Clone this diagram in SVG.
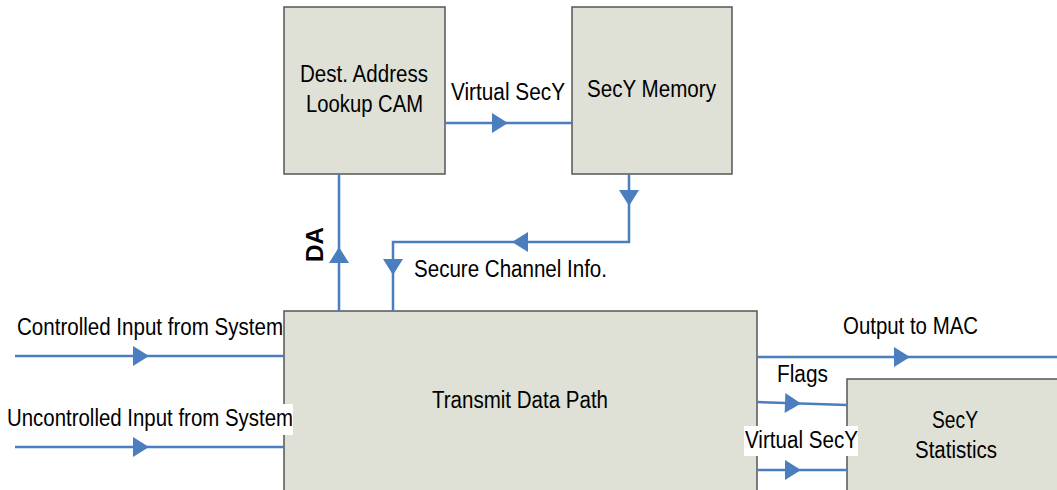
<svg xmlns="http://www.w3.org/2000/svg" xmlns:xlink="http://www.w3.org/1999/xlink" width="1057" height="490" viewBox="0 0 1057 490">
<style>
.box{fill:#dfe0d6;stroke:#555;stroke-width:1.5}
.ln{fill:none;stroke:#4a7ebf;stroke-width:2.5}
.ah{fill:#4a7ebf}
text{font-family:"Liberation Sans",Arial,sans-serif;font-size:23px;fill:#000}
.bg{fill:#fff}
</style>
<defs>
<path id="ah" d="M0,0 L-16,-10 L-16,10 Z"/>
</defs>
<rect width="1057" height="490" fill="#fff"/>
<g id="node-cam">
<rect class="box" x="284" y="7" width="161" height="167"/>
<text x="364" y="82" text-anchor="middle" textLength="128" lengthAdjust="spacingAndGlyphs">Dest. Address</text>
<text x="364.5" y="112" text-anchor="middle" textLength="117" lengthAdjust="spacingAndGlyphs">Lookup CAM</text>
</g>
<g id="node-memory">
<rect class="box" x="572" y="7" width="160" height="167"/>
<text x="651.5" y="97" text-anchor="middle" textLength="129" lengthAdjust="spacingAndGlyphs">SecY Memory</text>
</g>
<g id="node-transmit">
<rect class="box" x="284" y="311" width="473" height="190"/>
<text x="520" y="408" text-anchor="middle" textLength="176" lengthAdjust="spacingAndGlyphs">Transmit Data Path</text>
</g>
<g id="node-stats">
<rect class="box" x="847" y="379" width="220" height="130"/>
<text x="955" y="428" text-anchor="middle" textLength="46" lengthAdjust="spacingAndGlyphs">SecY</text>
<text x="956" y="458" text-anchor="middle" textLength="82" lengthAdjust="spacingAndGlyphs">Statistics</text>
</g>
<g id="connectors">
<line class="ln" x1="445" y1="123" x2="572" y2="123"/>
<use xlink:href="#ah" class="ah" transform="translate(508,123)"/>
<polyline class="ln" points="629,174 629,242 393,242 393,311"/>
<use xlink:href="#ah" class="ah" transform="translate(629,206) rotate(90)"/>
<use xlink:href="#ah" class="ah" transform="translate(512,242) rotate(180)"/>
<use xlink:href="#ah" class="ah" transform="translate(393,275) rotate(90)"/>
<line class="ln" x1="339" y1="311" x2="339" y2="174"/>
<use xlink:href="#ah" class="ah" transform="translate(339,247) rotate(-90)"/>
<line class="ln" x1="15" y1="356" x2="284" y2="356"/>
<use xlink:href="#ah" class="ah" transform="translate(149,356)"/>
<line class="ln" x1="15" y1="447" x2="284" y2="447"/>
<use xlink:href="#ah" class="ah" transform="translate(149,447)"/>
<line class="ln" x1="757" y1="357" x2="1057" y2="357"/>
<use xlink:href="#ah" class="ah" transform="translate(910,357)"/>
<line class="ln" x1="757" y1="402" x2="847" y2="405"/>
<use xlink:href="#ah" class="ah" transform="translate(801,403.5) rotate(1.9)"/>
<line class="ln" x1="757" y1="470" x2="847" y2="470"/>
<use xlink:href="#ah" class="ah" transform="translate(801,470)"/>
</g>
<g id="labels">
<text x="508" y="100" text-anchor="middle" textLength="114" lengthAdjust="spacingAndGlyphs">Virtual SecY</text>
<text x="414" y="277" textLength="193" lengthAdjust="spacingAndGlyphs">Secure Channel Info.</text>
<text x="0" y="0" font-weight="bold" textLength="35" lengthAdjust="spacingAndGlyphs" transform="translate(323,262) rotate(-90)">DA</text>
<text x="17" y="335" textLength="266" lengthAdjust="spacingAndGlyphs">Controlled Input from System</text>
<rect class="bg" x="2" y="404" width="291" height="31"/>
<text x="7" y="426" textLength="286" lengthAdjust="spacingAndGlyphs">Uncontrolled Input from System</text>
<text x="843" y="334" textLength="135" lengthAdjust="spacingAndGlyphs">Output to MAC</text>
<text x="777" y="382" textLength="51" lengthAdjust="spacingAndGlyphs">Flags</text>
<rect class="bg" x="744" y="426" width="114" height="30"/>
<text x="745" y="448" textLength="113" lengthAdjust="spacingAndGlyphs">Virtual SecY</text>
</g>
</svg>
